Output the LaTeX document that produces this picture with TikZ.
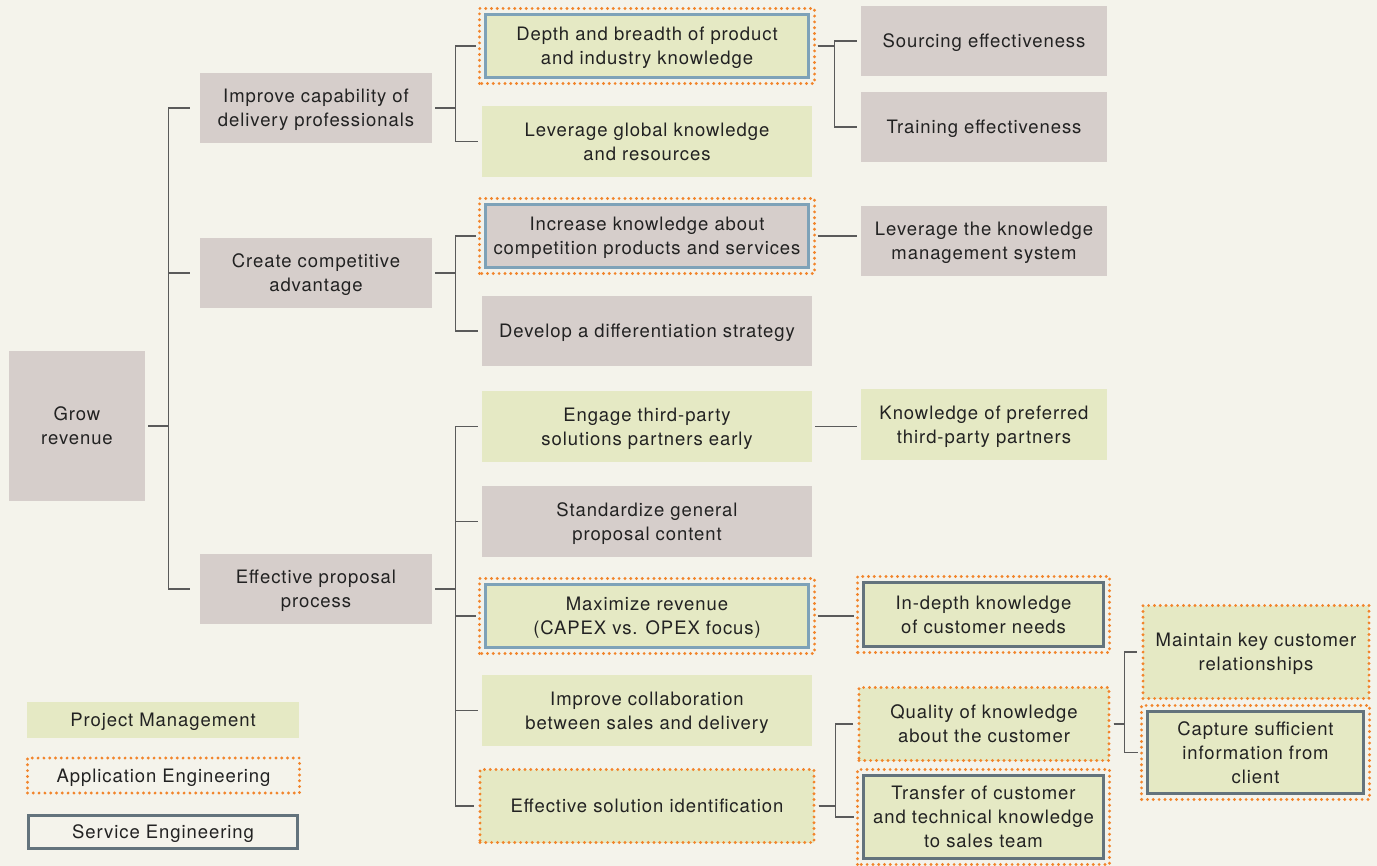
\documentclass[tikz,border=0pt]{standalone}
\usepackage{fontspec}
\setmainfont{TeX Gyre Heros}[LetterSpace=5]
\definecolor{bg}{HTML}{F4F3EB}
\definecolor{grbox}{HTML}{D6CECB}
\definecolor{pmgreen}{HTML}{E5E9C4}
\definecolor{aeorange}{HTML}{F2842A}
\definecolor{selight}{HTML}{7EA2B8}
\definecolor{seslate}{HTML}{63737C}
\definecolor{linegray}{HTML}{5A5A5A}
\definecolor{txt}{HTML}{222222}
\tikzset{
  box/.style={inner sep=0pt, align=center, text=txt, text depth=-3.5pt,
    font=\fontsize{18.5}{24}\selectfont},
  boxsize/.style 2 args={minimum width=#1pt, minimum height=#2pt},
  pm/.style={box, fill=pmgreen},
  gr/.style={box, fill=grbox},
  ae/.style={draw=aeorange, line width=3.2pt, dash pattern=on 0pt off 5.8pt,
    line cap=round},
  se/.style={draw=seslate, line width=3pt, outer sep=6pt},
  sel/.style={draw=selight, line width=3pt, outer sep=6pt},
  conn/.style={draw=linegray, line width=1.3pt, shorten <=3pt, shorten >=4pt}
}
\begin{document}
\begin{tikzpicture}[x=1pt, y=-1pt]
\fill[bg] (0,0) rectangle (1377,866);
\useasboundingbox (0,0) rectangle (1377,866);

\node[gr, boxsize={136}{150}] (grow) at (77,426) {Grow\\revenue};
\node[gr, boxsize={232}{70}] (imp) at (316,108) {Improve capability of\\delivery professionals};
\node[gr, boxsize={232}{70}] (comp) at (316,273) {Create competitive\\advantage};
\node[gr, boxsize={232}{70}] (prop) at (316,589) {Effective proposal\\process};

\node[pm, sel, boxsize={323}{63}] (depth) at (647,46) {Depth and breadth of product\\and industry knowledge};
\node[pm, boxsize={330}{71}] (glob) at (647,141.5) {Leverage global knowledge\\and resources};
\node[gr, sel, boxsize={323}{63}] (incr) at (647,236) {Increase knowledge about\\competition products and services};
\node[gr, boxsize={330}{70}] (diff) at (647,331) {Develop a differentiation strategy};
\node[pm, boxsize={330}{71}] (eng) at (647,426.5) {Engage third-party\\solutions partners early};
\node[gr, boxsize={330}{71}] (std) at (647,521.5) {Standardize general\\proposal content};
\node[pm, sel, boxsize={323}{63}] (maxr) at (647,616) {Maximize revenue\\(CAPEX vs. OPEX focus)};
\node[pm, boxsize={330}{71}] (coll) at (647,710.5) {Improve collaboration\\between sales and delivery};
\node[pm, ae, boxsize={334}{73}] (sol) at (647,806) {Effective solution identification};

\node[gr, boxsize={246}{70}] (src) at (984,41) {Sourcing effectiveness};
\node[gr, boxsize={246}{70}] (trn) at (984,127) {Training effectiveness};
\node[gr, boxsize={246}{70}] (kms) at (984,241) {Leverage the knowledge\\management system};
\node[pm, boxsize={246}{71}] (pref) at (984,424.5) {Knowledge of preferred\\third-party partners};
\node[pm, se, boxsize={240}{64}] (need) at (983.5,614.5) {In-depth knowledge\\of customer needs};
\node[pm, ae, boxsize={250}{73}] (qual) at (984,724) {Quality of knowledge\\about the customer};
\node[pm, se, boxsize={240}{83}] (trans) at (983.5,817) {Transfer of customer\\and technical knowledge\\to sales team};

\node[pm, ae, boxsize={226}{93}] (keep) at (1256,652) {Maintain key customer\\relationships};
\node[pm, se, boxsize={216}{82}] (capt) at (1255.5,752.5) {Capture sufficient\\information from\\client};

\node[pm, boxsize={272}{36}] (lpm) at (163,720) {Project Management};
\node[box, ae, boxsize={272}{35}] (lae) at (163.5,775.5) {Application Engineering};
\node[box, se, boxsize={269}{33}] (lse) at (163,832) {Service Engineering};

\foreach \n in {depth,incr,maxr,need,trans,capt}
  \draw[ae] (\n.south west) rectangle (\n.north east);

\foreach \c in {imp,comp,prop}
  \draw[conn, shorten >=10pt] (grow.east) -- ++(23,0) |- (\c.west);
\foreach \c in {depth,glob}
  \draw[conn] (imp.east) -- ++(23,0) |- (\c.west);
\foreach \c in {incr,diff}
  \draw[conn] (comp.east) -- ++(23,0) |- (\c.west);
\foreach \c in {eng,std,maxr,coll,sol}
  \draw[conn] (prop.east) -- ++(23,0) |- (\c.west);
\foreach \c in {src,trn}
  \draw[conn] (depth.east) -- ++(20,0) |- (\c.west);
\draw[conn] (incr.east) -- (incr.east -| kms.west);
\draw[conn] (eng.east) -- (eng.east -| pref.west);
\draw[conn] (maxr.east) -- (maxr.east -| need.west);
\foreach \c in {qual,trans}
  \draw[conn] (sol.east) -- ++(20,0) |- (\c.west);
\foreach \c in {keep,capt}
  \draw[conn] (qual.east) -- ++(14,0) |- (\c.west);
\end{tikzpicture}
\end{document}
